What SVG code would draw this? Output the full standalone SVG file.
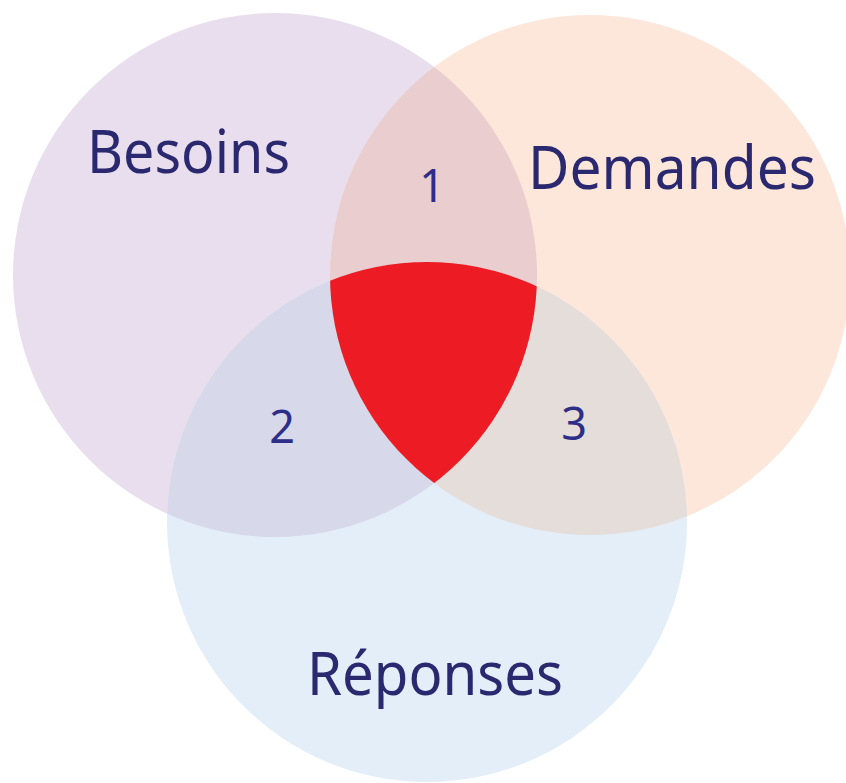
<svg xmlns="http://www.w3.org/2000/svg" width="846" height="783" viewBox="0 0 846 783">
<style>
.lbl{font-family:"Noto Sans","Open Sans","DejaVu Sans",sans-serif;font-size:60px;fill:#2A286E;text-anchor:middle}
.num{font-family:"Noto Sans","Open Sans","DejaVu Sans",sans-serif;font-size:45px;fill:#2E2E88;text-anchor:middle}
</style>
<defs>
<clipPath id="cB"><circle cx="275" cy="275" r="262"/></clipPath>
<clipPath id="cD"><circle cx="590" cy="275" r="260"/></clipPath>
<clipPath id="cR"><circle cx="427" cy="522" r="260"/></clipPath>
</defs>
<rect width="846" height="783" fill="#FFFFFF"/>
<g id="besoins">
<circle cx="275" cy="275" r="262" fill="#E9DEEE"/>
</g>
<g id="demandes">
<circle cx="590" cy="275" r="260" fill="#FDE6DA"/>
</g>
<g id="reponses">
<circle cx="427" cy="522" r="260" fill="#E3EEF9"/>
</g>
<g id="overlap1" clip-path="url(#cB)">
<circle cx="590" cy="275" r="260" fill="#E9CDCF"/>
</g>
<g id="overlap2" clip-path="url(#cB)">
<circle cx="427" cy="522" r="260" fill="#D7D8EA"/>
</g>
<g id="overlap3" clip-path="url(#cD)">
<circle cx="427" cy="522" r="260" fill="#E5DDD9"/>
</g>
<g id="centre" clip-path="url(#cB)">
<circle cx="427" cy="522" r="260" fill="#ED1C24" clip-path="url(#cD)"/>
</g>
<g id="connectors"/>
<g id="labels">
<text class="lbl" x="188.5" y="173" textLength="203" lengthAdjust="spacingAndGlyphs">Besoins</text>
<text class="lbl" x="672" y="189" textLength="288" lengthAdjust="spacingAndGlyphs">Demandes</text>
<text class="lbl" x="435" y="695" textLength="256" lengthAdjust="spacingAndGlyphs">Réponses</text>
<text class="num" x="432" y="202">1</text>
<text class="num" x="282" y="443">2</text>
<text class="num" x="574" y="440">3</text>
</g>
</svg>
